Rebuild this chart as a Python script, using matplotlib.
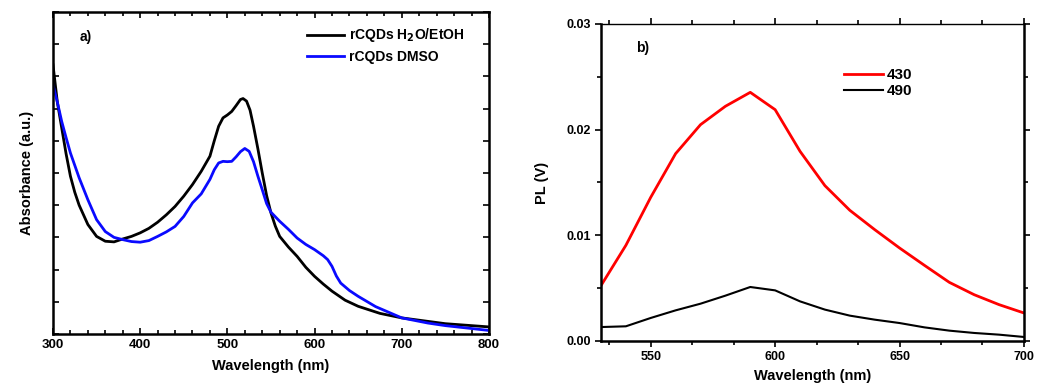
import matplotlib.pyplot as plt
from matplotlib.ticker import MultipleLocator, NullFormatter

plt.rcParams['font.family'] = ['Liberation Sans', 'DejaVu Sans']
plt.rcParams['font.weight'] = 'bold'

# a) absorbance (arb. units)
wl_h2o = [300, 305, 310, 315, 320, 325, 330, 340, 350, 360, 370, 380, 390, 400, 410, 420, 430,
          440, 450, 460, 470, 480, 485, 490, 495, 500, 505, 510, 515, 518, 522, 526, 530, 535,
          540, 545, 550, 555, 560, 570, 580, 590, 600, 610, 620, 635, 650, 675, 700, 750, 800]
abs_h2o = [0.836, 0.72, 0.64, 0.56, 0.49, 0.44, 0.40, 0.34, 0.303, 0.288, 0.286, 0.295, 0.303,
           0.314, 0.328, 0.347, 0.37, 0.396, 0.428, 0.464, 0.505, 0.552, 0.60, 0.645, 0.671,
           0.68, 0.691, 0.709, 0.728, 0.731, 0.723, 0.695, 0.645, 0.575, 0.50, 0.43, 0.376,
           0.335, 0.303, 0.27, 0.241, 0.207, 0.179, 0.155, 0.133, 0.105, 0.086, 0.064, 0.05,
           0.032, 0.022]
wl_dmso = [300, 305, 310, 315, 320, 330, 340, 350, 360, 370, 380, 390, 400, 410, 420, 430, 440,
           450, 460, 470, 480, 485, 490, 495, 500, 505, 510, 515, 520, 525, 530, 535, 540, 545,
           550, 560, 570, 580, 590, 600, 610, 615, 620, 625, 630, 640, 650, 670, 700, 730, 750,
           800]
abs_dmso = [0.774, 0.72, 0.66, 0.61, 0.562, 0.485, 0.417, 0.355, 0.318, 0.30, 0.293, 0.287,
            0.285, 0.29, 0.303, 0.317, 0.334, 0.365, 0.407, 0.435, 0.48, 0.51, 0.531, 0.536,
            0.535, 0.536, 0.55, 0.566, 0.576, 0.567, 0.535, 0.49, 0.448, 0.405, 0.378, 0.35,
            0.325, 0.298, 0.278, 0.262, 0.243, 0.231, 0.21, 0.18, 0.158, 0.135, 0.117, 0.085,
            0.05, 0.034, 0.026, 0.011]

# b) PL
wl_pl = [530, 540, 550, 560, 570, 580, 590, 600, 610, 620, 630, 640, 650, 660, 670, 680, 690, 700]
pl_430 = [0.00524, 0.00905, 0.0136, 0.01773, 0.02047, 0.02221, 0.02353, 0.02189, 0.01795, 0.0147,
          0.01237, 0.01054, 0.0088, 0.00716, 0.00555, 0.00438, 0.00344, 0.00265]
pl_490 = [0.00132, 0.00139, 0.00218, 0.0029, 0.00353, 0.00429, 0.00511, 0.00479, 0.00375, 0.00297,
          0.0024, 0.00202, 0.0017, 0.00129, 0.00098, 0.00076, 0.0006, 0.00038]

fig = plt.figure(figsize=(10.47, 3.89), dpi=100)
ax1 = fig.add_axes([0.0506, 0.1414, 0.4164, 0.828])
ax2 = fig.add_axes([0.574, 0.1234, 0.404, 0.815])

# panel a
ax1.plot(wl_h2o, abs_h2o, color='black', lw=2, label='rCQDs H$_\\mathbf{2}$O/EtOH')
ax1.plot(wl_dmso, abs_dmso, color='#0a0aff', lw=2, label='rCQDs DMSO')
ax1.set_xlim(300, 800)
ax1.set_ylim(0, 1)
ax1.xaxis.set_major_locator(MultipleLocator(100))
ax1.xaxis.set_minor_locator(MultipleLocator(20))
ax1.yaxis.set_major_locator(MultipleLocator(0.1))
ax1.yaxis.set_major_formatter(NullFormatter())
ax1.tick_params(which='both', direction='in', top=True, right=True, labelsize=9.5, width=1.2)
ax1.tick_params(which='major', length=4)
ax1.tick_params(which='minor', length=3)
for s in ax1.spines.values():
    s.set_linewidth(1.8)
ax1.set_xlabel('Wavelength (nm)', fontsize=10.5, fontweight='bold', labelpad=6)
ax1.set_ylabel('Absorbance (a.u.)', fontsize=10.5, fontweight='bold', labelpad=10)
ax1.text(0.06, 0.91, 'a)', transform=ax1.transAxes, fontsize=10, fontweight='bold')
ax1.legend(loc='upper left', bbox_to_anchor=(0.56, 0.985), frameon=False, fontsize=10,
           handlelength=2.7, handletextpad=0.3, labelspacing=0.4, borderpad=0.2)

# panel b
ax2.plot(wl_pl, pl_430, color='#ff0000', lw=2, label='430')
ax2.plot(wl_pl, pl_490, color='black', lw=1.5, label='490')
ax2.set_xlim(530, 700)
ax2.set_ylim(0, 0.03)
ax2.xaxis.set_major_locator(MultipleLocator(50))
ax2.xaxis.set_minor_locator(MultipleLocator(50 / 3))
ax2.yaxis.set_major_locator(MultipleLocator(0.01))
ax2.yaxis.set_minor_locator(MultipleLocator(0.005))
ax2.yaxis.set_major_formatter(plt.FuncFormatter(lambda v, p: f'{v:.2f}'))
ax2.tick_params(which='both', direction='out', labelsize=9, width=1.2)
ax2.tick_params(which='both', right=True, top=True)
ax2.tick_params(which='major', length=4)
ax2.tick_params(which='minor', length=3)
for s in ['left', 'bottom', 'right']:
    ax2.spines[s].set_linewidth(1.8)
ax2.spines['top'].set_linewidth(1.0)
ax2.set_xlabel('Wavelength (nm)', fontsize=10.5, fontweight='bold', labelpad=4)
ax2.set_ylabel('PL (V)', fontsize=10.5, fontweight='bold', labelpad=12)
ax2.text(0.083, 0.91, 'b)', transform=ax2.transAxes, fontsize=10, fontweight='bold')
ax2.legend(loc='upper left', bbox_to_anchor=(0.55, 0.895), frameon=False, fontsize=11,
           handlelength=2.5, handletextpad=0.3, labelspacing=0.15, borderpad=0.2)

fig.savefig('out.png', dpi=100)
